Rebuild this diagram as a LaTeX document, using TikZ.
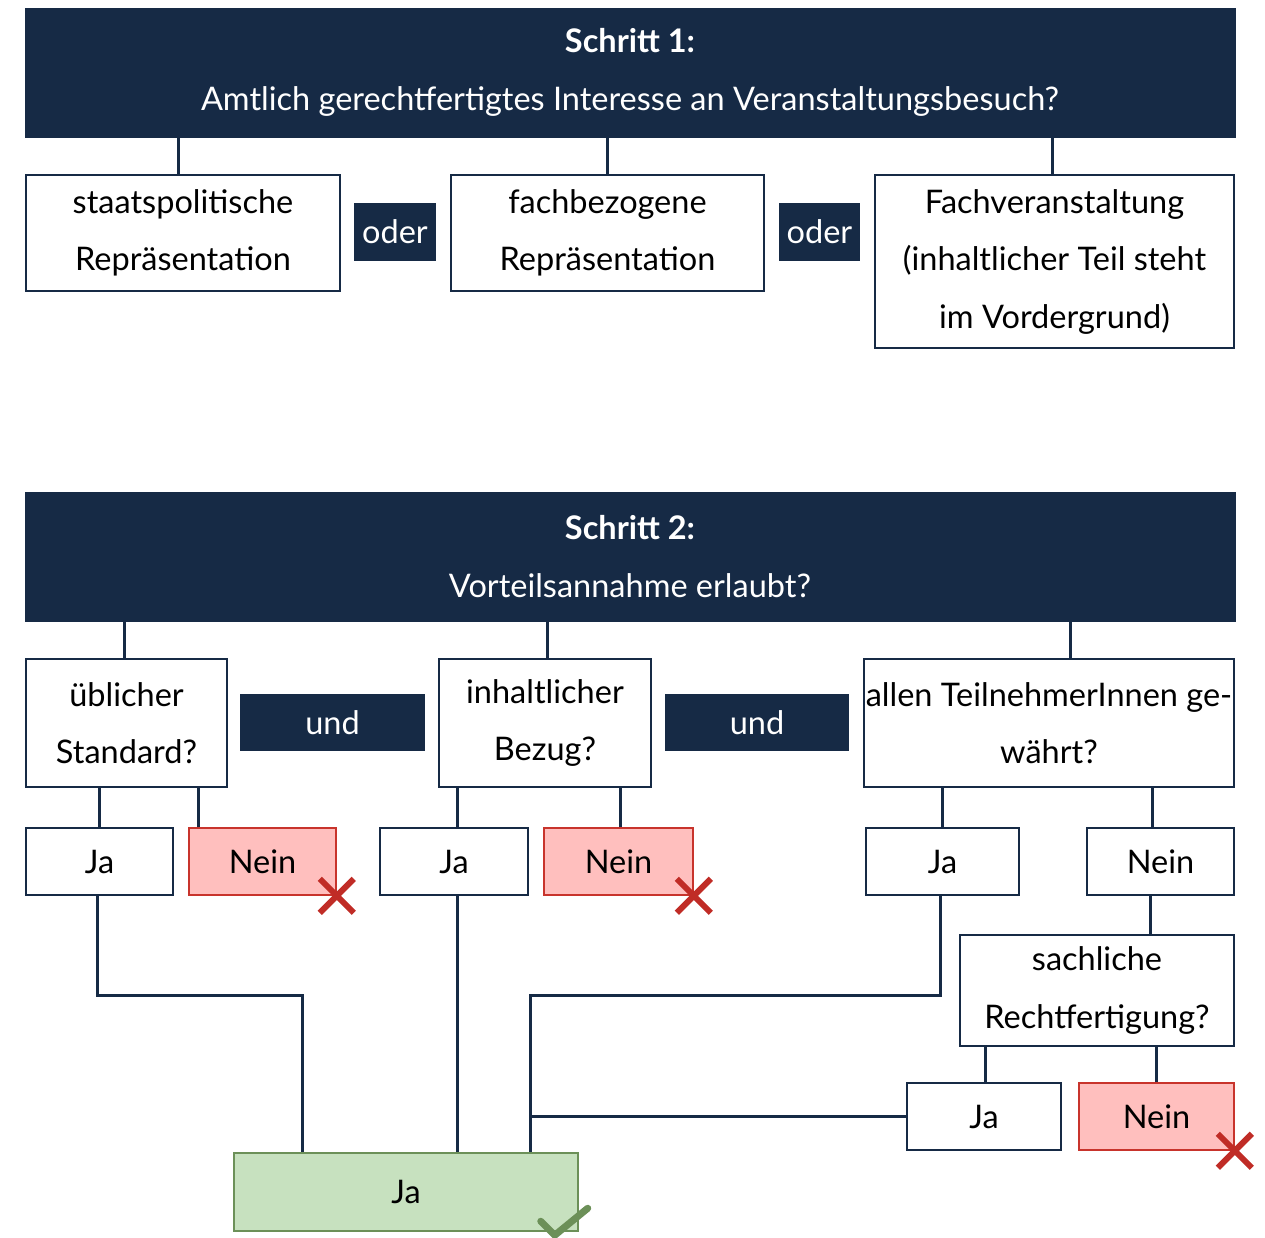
\documentclass[tikz,border=0pt]{standalone}
\usepackage{fontspec}
\setmainfont{Lato}
\definecolor{navy}{RGB}{22,42,69}
\definecolor{pinkfill}{RGB}{255,191,190}
\definecolor{redline}{RGB}{200,52,44}
\definecolor{greenfill}{RGB}{199,225,191}
\definecolor{greenline}{RGB}{108,144,88}
\definecolor{crossred}{RGB}{192,44,38}
\begin{document}
\begin{tikzpicture}[x=1pt,y=-1pt,
  every node/.style={font=\fontsize{32.5}{57.5}\selectfont, inner sep=0pt, align=center},
  hdr/.style={fill=navy, draw=navy, text=white, minimum width=1210, minimum height=129},
  wbox/.style={draw=navy, line width=1.5, fill=white, text=black},
  dbox/.style={fill=navy, text=white},
  nbox/.style={draw=redline, line width=1.5, fill=pinkfill, text=black},
  gbox/.style={draw=greenline, line width=1.5, fill=greenfill, text=black},
  conn/.style={draw=navy, line width=3},
  cross/.style={draw=crossred, line width=6},
  tick/.style={draw=greenline, line width=7, line cap=round, line join=round}]
\useasboundingbox (0,0) rectangle (1265,1238);
% Step 1
\node[hdr] (h1) at (630,72.5) {\textbf{Schritt 1:}\\Amtlich gerechtfertigtes Interesse an Veranstaltungsbesuch?};
\node[wbox, minimum width=314, minimum height=116] (A) at (183,233) {staatspolitische\\Repräsentation};
\node[dbox, minimum width=82, minimum height=58] (or1) at (395,232) {oder};
\node[wbox, minimum width=313, minimum height=116] (B) at (607.5,233) {fachbezogene\\Repräsentation};
\node[dbox, minimum width=81, minimum height=58] (or2) at (819.5,232) {oder};
\node[wbox, minimum width=359, minimum height=173] (C) at (1054.5,261.5) {Fachveranstaltung\\(inhaltlicher Teil steht\\im Vordergrund)};
\draw[conn] ([xshift=-5]A.north) -- ([xshift=-5]A.north |- h1.south);
\draw[conn] (B.north) -- (B.north |- h1.south);
\draw[conn] ([xshift=-2.5]C.north) -- ([xshift=-2.5]C.north |- h1.south);
% Step 2
\node[hdr] (h2) at (630,556.5) {\textbf{Schritt 2:}\\Vorteilsannahme erlaubt?};
\node[wbox, minimum width=201, minimum height=128] (D) at (126.5,723) {üblicher\\Standard?};
\node[dbox, minimum width=185, minimum height=57] (und1) at (332.5,722.5) {und};
\node[wbox, minimum width=212, minimum height=128] (E) at (545,723) {inhaltlicher\\Bezug?};
\node[dbox, minimum width=184, minimum height=57] (und2) at (757,722.5) {und};
\node[wbox, minimum width=370, minimum height=128] (F) at (1049,723) {allen TeilnehmerInnen ge-\\währt?};
\draw[conn] ([xshift=-2.5]D.north) -- ([xshift=-2.5]D.north |- h2.south);
\draw[conn] ([xshift=2]E.north) -- ([xshift=2]E.north |- h2.south);
\draw[conn] ([xshift=21]F.north) -- ([xshift=21]F.north |- h2.south);
% answers
\node[wbox, minimum width=147, minimum height=67] (Ja1) at (99.5,861.5) {Ja};
\node[nbox, minimum width=147, minimum height=67] (N1) at (262.5,861.5) {Nein};
\node[wbox, minimum width=148, minimum height=67] (Ja2) at (454,861.5) {Ja};
\node[nbox, minimum width=149, minimum height=67] (N2) at (618.5,861.5) {Nein};
\node[wbox, minimum width=153, minimum height=67] (Ja3) at (942.5,861.5) {Ja};
\node[wbox, minimum width=147, minimum height=67] (N3) at (1160.5,861.5) {Nein};
\node[wbox, minimum width=274, minimum height=111] (S) at (1097,990.5) {sachliche\\Rechtfertigung?};
\node[wbox, minimum width=154, minimum height=67] (Ja4) at (984,1116.5) {Ja};
\node[nbox, minimum width=155, minimum height=67] (N4) at (1156.5,1116.5) {Nein};
\node[gbox, minimum width=344, minimum height=78] (G) at (406,1192) {Ja};
\draw[conn] (Ja1.north) -- (Ja1.north |- D.south);
\draw[conn] ([xshift=10]N1.north west) -- ([xshift=10]N1.north west |- D.south);
\draw[conn] ([xshift=3]Ja2.north) -- ([xshift=3]Ja2.north |- E.south);
\draw[conn] ([xshift=1.5]N2.north) -- ([xshift=1.5]N2.north |- E.south);
\draw[conn] (Ja3.north) -- (Ja3.north |- F.south);
\draw[conn] ([xshift=-8.5]N3.north) -- ([xshift=-8.5]N3.north |- F.south);
\draw[conn] ([xshift=-10.5]N3.south) -- ([xshift=-10.5]N3.south |- S.north);
\draw[conn] ([xshift=1]Ja4.north) -- ([xshift=1]Ja4.north |- S.south);
\draw[conn] (N4.north) -- (N4.north |- S.south);
% paths to result
\coordinate (m1) at (302,995);
\coordinate (m2) at (530,995);
\draw[conn] ([xshift=-2.5]Ja1.south) |- (m1) -- (m1 |- G.north);
\draw[conn] ([xshift=3]Ja2.south) -- ([xshift=3]Ja2.south |- G.north);
\draw[conn] ([xshift=-2.5]Ja3.south) |- (m2) -- (m2 |- G.north);
\draw[conn] (Ja4.west) -- (Ja4.west -| m2);
% crosses
\foreach \n in {N1,N2,N4}{
  \draw[cross] ([shift={(-17,-17)}]\n.south east) -- ([shift={(17,17)}]\n.south east);
  \draw[cross] ([shift={(-17,17)}]\n.south east) -- ([shift={(17,-17)}]\n.south east);
}
% tick
\draw[tick] ([shift={(-38,69)}]G.north east) -- ([shift={(-24,83)}]G.north east) -- ([shift={(9,56)}]G.north east);
\end{tikzpicture}
\end{document}
